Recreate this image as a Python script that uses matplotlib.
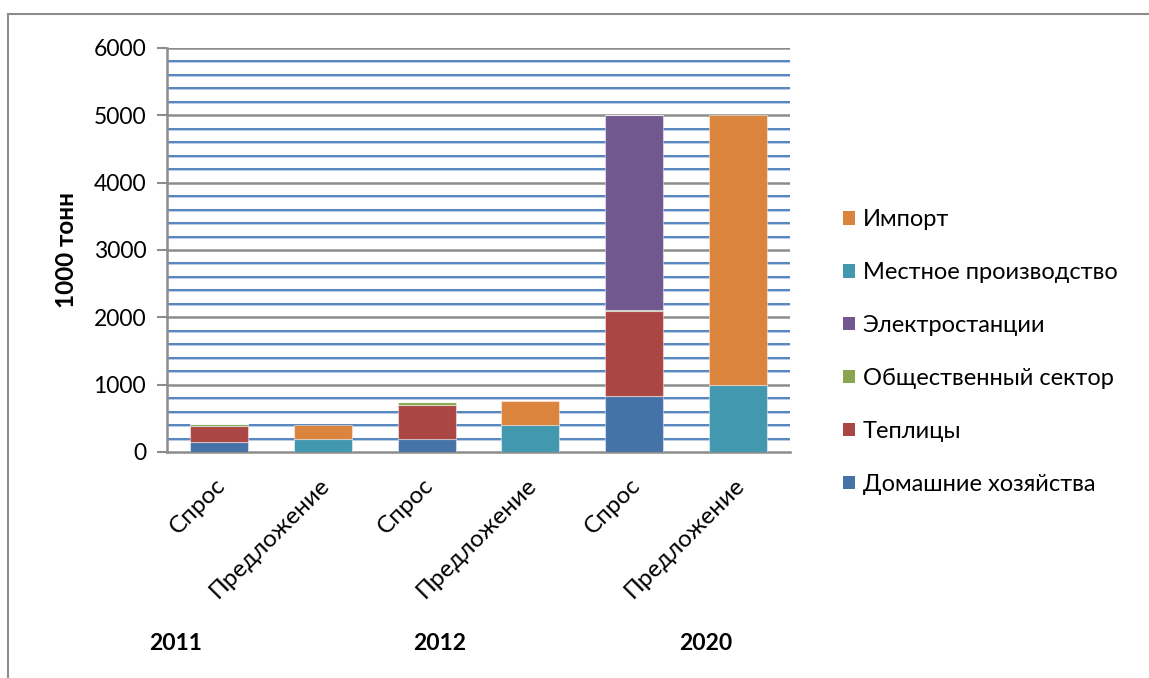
import matplotlib
matplotlib.use("Agg")
import matplotlib.pyplot as plt
from matplotlib.patches import Patch
from matplotlib.lines import Line2D
import numpy as np

plt.rcParams['font.family'] = ['Lato', 'DejaVu Sans']

# Categories: demand / supply for each year
categories = ["Спрос", "Предложение", "Спрос", "Предложение", "Спрос", "Предложение"]
years = ["2011", "2012", "2020"]

# Stacked series, thousand tonnes
households = [150, 0, 200, 0, 830, 0]
greenhouses = [240, 0, 500, 0, 1270, 0]
public_sector = [20, 0, 40, 0, 10, 0]
power_plants = [0, 0, 0, 0, 2890, 0]
local_production = [0, 200, 0, 400, 0, 1000]
imports = [0, 200, 0, 350, 0, 4000]

series = [
    ("Домашние хозяйства", households, "#4572A7"),
    ("Теплицы", greenhouses, "#AA4643"),
    ("Общественный сектор", public_sector, "#89A54E"),
    ("Электростанции", power_plants, "#71588F"),
    ("Местное производство", local_production, "#4198AF"),
    ("Импорт", imports, "#DB843D"),
]

W, H = 1149, 678
fig = plt.figure(figsize=(W / 100, H / 100), dpi=100)

# outer chart-area border (top and left edges)
fig.add_artist(Line2D([8 / W, 8 / W], [0, 1 - 14 / H], color="#8c8c8c", lw=1.5))
fig.add_artist(Line2D([8 / W, 1], [1 - 14 / H, 1 - 14 / H], color="#8c8c8c", lw=1.5))

ax_l, ax_r, ax_t, ax_b = 167, 790, 48, 452
ax = fig.add_axes([ax_l / W, 1 - ax_b / H, (ax_r - ax_l) / W, (ax_b - ax_t) / H])

x = np.arange(len(categories))
bottom = np.zeros(len(categories))
for name, vals, color in series:
    vals = np.array(vals, dtype=float)
    ax.bar(x, vals, width=0.56, bottom=bottom, color=color,
           edgecolor=(1, 1, 1, 0.45), linewidth=0.8, zorder=3, label=name)
    bottom += vals

ax.set_xlim(-0.5, len(categories) - 0.5)
ax.set_ylim(0, 6000)

# gridlines: blue minor every 200, gray major every 1000
for v in range(200, 6000, 200):
    if v % 1000:
        ax.axhline(v, color="#b9cde5", lw=2.2, zorder=1)
        ax.axhline(v, color="#4f81bd", lw=1.3, zorder=1.1)
for v in range(1000, 6001, 1000):
    ax.axhline(v, color="#8c8c8c", lw=1.8, zorder=1.2)

for s in ["top", "right"]:
    ax.spines[s].set_visible(False)
for s in ["left", "bottom"]:
    ax.spines[s].set_color("#8c8c8c")
    ax.spines[s].set_linewidth(1.8)

ax.set_yticks(range(0, 6001, 1000))
ax.set_yticklabels([str(v) for v in range(0, 6001, 1000)], fontsize=16.5)
ax.tick_params(axis="y", length=7, width=1.5, color="#8c8c8c", pad=8)
ax.tick_params(axis="x", length=0)
ax.set_xticks(x)
ax.set_xticklabels([])

for xi, lab in zip(x, categories):
    ax.text(xi + 0.03, -440, lab, rotation=45, rotation_mode="anchor",
            ha="right", va="center", fontsize=17.5)

fig.text(66 / W, 1 - 250 / H, "1000 тонн", rotation=90, ha="center",
         va="center", fontsize=17.5, fontweight="bold")

for xpos, yr in zip([176, 440, 706], years):
    fig.text(xpos / W, 1 - 643 / H, yr, ha="center", va="center",
             fontsize=16.5, fontweight="bold")

handles = [Patch(facecolor=c, edgecolor="none") for _, _, c in series][::-1]
labels = [n for n, _, _ in series][::-1]
fig.legend(handles, labels, loc="center left",
           bbox_to_anchor=(831 / W, 1 - 352 / H), frameon=False,
           fontsize=17, handlelength=0.5, handleheight=0.5,
           handletextpad=0.35, labelspacing=1.35, borderpad=0)

fig.savefig("out.png", dpi=100)
